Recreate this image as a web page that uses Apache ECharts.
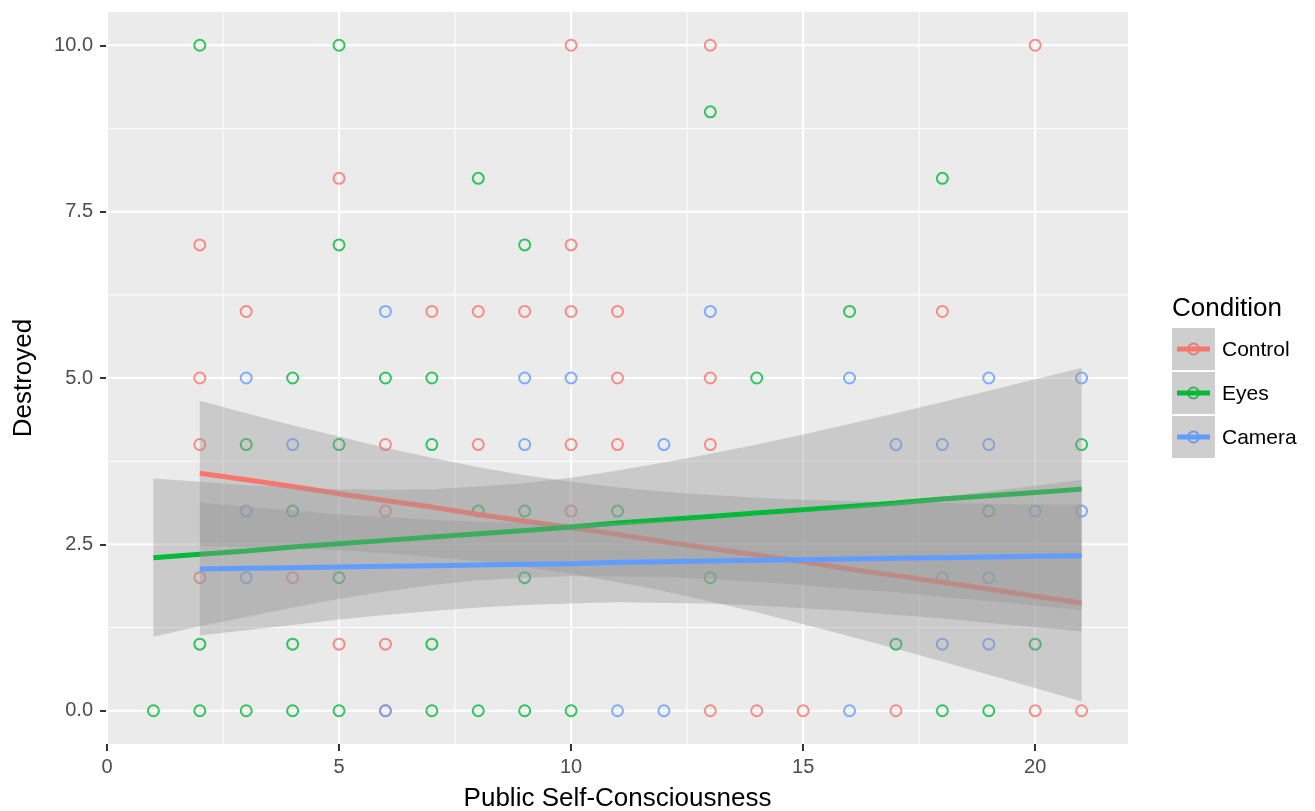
<!DOCTYPE html>
<html>
<head>
<meta charset="utf-8">
<script src="https://cdn.jsdelivr.net/npm/echarts@6/dist/echarts.min.js"></script>
<style>
  html, body { margin: 0; padding: 0; background: #ffffff; }
  #chart { width: 1315px; height: 811px; }
</style>
</head>
<body>
<div id="chart"></div>
<script>
// Groups and their colours
const groups = ['Control', 'Eyes', 'Camera'];
const groupColors = ['#F8766D', '#00BA38', '#619CFF'];

// Axis tick positions
const xTicks = [0, 5, 10, 15, 20];
const xMinor = [2.5, 7.5, 12.5, 17.5];
const yTicks = [0, 2.5, 5, 7.5, 10];
const yMinor = [1.25, 3.75, 6.25, 8.75];

// Observations: Public Self-Consciousness (x) vs Destroyed (y)
const controlX = [10, 13, 20, 5, 2, 10, 3, 7, 8, 9, 10, 11, 18, 2, 11, 13, 2, 6, 8, 10, 11, 13, 6, 10, 2, 4, 5, 6, 6, 13, 14, 15, 17, 20, 21];
const controlY = [10, 10, 10, 8, 7, 7, 6, 6, 6, 6, 6, 6, 6, 5, 5, 5, 4, 4, 4, 4, 4, 4, 3, 3, 2, 2, 1, 1, 0, 0, 0, 0, 0, 0, 0];

const eyesX = [2, 5, 13, 8, 18, 5, 9, 16, 4, 6, 7, 14, 3, 5, 7, 21, 4, 8, 9, 11, 19, 5, 9, 13, 2, 4, 7, 17, 20, 1, 2, 3, 4, 5, 7, 8, 9, 10, 18, 19];
const eyesY = [10, 10, 9, 8, 8, 7, 7, 6, 5, 5, 5, 5, 4, 4, 4, 4, 3, 3, 3, 3, 3, 2, 2, 2, 1, 1, 1, 1, 1, 0, 0, 0, 0, 0, 0, 0, 0, 0, 0, 0];

const cameraX = [6, 13, 3, 9, 10, 16, 19, 21, 4, 9, 12, 17, 18, 19, 3, 20, 21, 3, 18, 19, 18, 19, 6, 11, 12, 16];
const cameraY = [6, 6, 5, 5, 5, 5, 5, 5, 4, 4, 4, 4, 4, 4, 3, 3, 3, 2, 2, 2, 1, 1, 0, 0, 0, 0];

// Linear fits with 95% confidence bands, per group
const controlFitX  = [2, 3, 4, 5, 6, 7, 8, 9, 10, 11, 12, 13, 14, 15, 16, 17, 18, 19, 20, 21];
const controlFit   = [3.57, 3.47, 3.37, 3.26, 3.16, 3.06, 2.95, 2.85, 2.75, 2.65, 2.54, 2.44, 2.34, 2.24, 2.13, 2.03, 1.93, 1.83, 1.72, 1.62];
const controlLower = [2.48, 2.46, 2.44, 2.41, 2.37, 2.31, 2.25, 2.16, 2.06, 1.93, 1.80, 1.64, 1.48, 1.30, 1.12, 0.93, 0.74, 0.54, 0.34, 0.14];
const controlUpper = [4.66, 4.47, 4.29, 4.12, 3.95, 3.80, 3.66, 3.54, 3.44, 3.36, 3.29, 3.24, 3.20, 3.17, 3.15, 3.13, 3.12, 3.11, 3.10, 3.10];

const eyesFitX  = [1, 2, 3, 4, 5, 6, 7, 8, 9, 10, 11, 12, 13, 14, 15, 16, 17, 18, 19, 20, 21];
const eyesFit   = [2.30, 2.35, 2.40, 2.46, 2.51, 2.56, 2.61, 2.66, 2.71, 2.76, 2.82, 2.87, 2.92, 2.97, 3.02, 3.07, 3.12, 3.18, 3.23, 3.28, 3.33];
const eyesLower = [1.11, 1.27, 1.41, 1.55, 1.68, 1.79, 1.89, 1.96, 2.00, 2.02, 2.02, 2.01, 1.98, 1.94, 1.89, 1.83, 1.78, 1.71, 1.65, 1.58, 1.51];
const eyesUpper = [3.49, 3.44, 3.39, 3.36, 3.33, 3.32, 3.33, 3.37, 3.42, 3.50, 3.61, 3.73, 3.86, 4.00, 4.15, 4.31, 4.47, 4.64, 4.81, 4.98, 5.15];

const cameraFitX  = [2, 3, 4, 5, 6, 7, 8, 9, 10, 11, 12, 13, 14, 15, 16, 17, 18, 19, 20, 21];
const cameraFit   = [2.13, 2.14, 2.15, 2.16, 2.17, 2.18, 2.19, 2.20, 2.21, 2.23, 2.24, 2.25, 2.26, 2.27, 2.28, 2.29, 2.30, 2.31, 2.32, 2.33];
const cameraLower = [1.13, 1.21, 1.29, 1.37, 1.44, 1.50, 1.55, 1.59, 1.61, 1.63, 1.62, 1.61, 1.58, 1.54, 1.50, 1.44, 1.39, 1.32, 1.26, 1.19];
const cameraUpper = [3.13, 3.07, 3.01, 2.95, 2.91, 2.87, 2.84, 2.82, 2.81, 2.82, 2.85, 2.88, 2.93, 2.99, 3.06, 3.13, 3.21, 3.30, 3.38, 3.47];

const pointsByGroup = [[controlX, controlY], [eyesX, eyesY], [cameraX, cameraY]];
const fitsByGroup = [
  [controlFitX, controlFit, controlLower, controlUpper],
  [eyesFitX, eyesFit, eyesLower, eyesUpper],
  [cameraFitX, cameraFit, cameraLower, cameraUpper]
];

const FONT = '"Liberation Sans", Arial, Helvetica, sans-serif';
const bandFill = 'rgba(153,153,153,0.4)';

const chart = echarts.init(document.getElementById('chart'), null, { renderer: 'canvas' });

// Panel grid lines, drawn through the axis scales
const gridLineSeries = {
  type: 'custom',
  silent: true,
  z: 1,
  data: [[0, 0]],
  renderItem(params, api) {
    const cs = params.coordSys;
    const children = [];
    const vline = (v, w) => {
      const p = api.coord([v, 0]);
      children.push({ type: 'line', shape: { x1: p[0], y1: cs.y, x2: p[0], y2: cs.y + cs.height },
        style: { stroke: '#ffffff', lineWidth: w } });
    };
    const hline = (v, w) => {
      const p = api.coord([0, v]);
      children.push({ type: 'line', shape: { x1: cs.x, y1: p[1], x2: cs.x + cs.width, y2: p[1] },
        style: { stroke: '#ffffff', lineWidth: w } });
    };
    xMinor.forEach(v => vline(v, 1));
    yMinor.forEach(v => hline(v, 1));
    xTicks.forEach(v => vline(v, 2));
    yTicks.forEach(v => hline(v, 2));
    return { type: 'group', children };
  }
};

const series = [gridLineSeries];

// Open-circle points
groups.forEach((g, gi) => {
  const [xs, ys] = pointsByGroup[gi];
  series.push({
    name: g,
    type: 'scatter',
    z: 2,
    symbol: 'circle',
    symbolSize: 11,
    itemStyle: { color: 'rgba(0,0,0,0)', borderColor: groupColors[gi], borderWidth: 2 },
    emphasis: { disabled: true },
    data: xs.map((x, i) => [x, ys[i]])
  });
});

// Confidence ribbon then fitted line, group by group (later groups layered on top)
groups.forEach((g, gi) => {
  const [fx, fit, lo, hi] = fitsByGroup[gi];
  series.push({
    type: 'custom',
    silent: true,
    z: 3 + gi * 2,
    data: fx.map((x, i) => [x, lo[i], hi[i]]),
    encode: { x: 0, y: [1, 2] },
    renderItem(params, api) {
      if (params.dataIndex !== 0) return null;
      const pts = [];
      for (let i = 0; i < fx.length; i++) pts.push(api.coord([fx[i], hi[i]]));
      for (let i = fx.length - 1; i >= 0; i--) pts.push(api.coord([fx[i], lo[i]]));
      return { type: 'polygon', shape: { points: pts }, style: { fill: bandFill } };
    }
  });
  series.push({
    type: 'line',
    z: 4 + gi * 2,
    silent: true,
    showSymbol: false,
    symbol: 'none',
    lineStyle: { color: groupColors[gi], width: 5 },
    data: fx.map((x, i) => [x, fit[i]])
  });
});

// Legend built from the group list
const legendLeft = 1172, keyW = 43, keyH = 42, keyTop = 328, keyStep = 44;
const legendGraphics = [{
  type: 'text', left: legendLeft, top: 296,
  style: { text: 'Condition', font: '26px ' + FONT, fill: '#000000' }
}];
groups.forEach((g, gi) => {
  const top = keyTop + gi * keyStep;
  const cy = top + keyH / 2;
  legendGraphics.push({
    type: 'rect', shape: { x: legendLeft, y: top, width: keyW, height: keyH },
    style: { fill: '#F2F2F2' }
  });
  legendGraphics.push({
    type: 'circle', shape: { cx: legendLeft + keyW / 2, cy: cy, r: 5.5 },
    style: { fill: 'none', stroke: groupColors[gi], lineWidth: 2 }
  });
  legendGraphics.push({
    type: 'rect', shape: { x: legendLeft, y: top, width: keyW, height: keyH },
    style: { fill: bandFill }
  });
  legendGraphics.push({
    type: 'line', shape: { x1: legendLeft + 5, y1: cy, x2: legendLeft + keyW - 5, y2: cy },
    style: { stroke: groupColors[gi], lineWidth: 5 }
  });
  legendGraphics.push({
    type: 'text', left: legendLeft + keyW + 7, top: cy - 9,
    style: { text: g, font: '21px ' + FONT, fill: '#000000' }
  });
});

chart.setOption({
  animation: false,
  backgroundColor: '#ffffff',
  grid: {
    left: 107, right: 187, top: 12, bottom: 67,
    containLabel: false,
    outerBoundsMode: 'none',
    show: true, backgroundColor: '#EBEBEB', borderWidth: 0
  },
  xAxis: {
    type: 'value',
    min: 0, max: 22,
    name: 'Public Self-Consciousness',
    nameLocation: 'middle',
    nameGap: 42,
    nameTextStyle: { fontFamily: FONT, fontSize: 26, color: '#000000' },
    axisLine: { show: true, onZero: false, lineStyle: { color: 'rgba(0,0,0,0)', width: 0 } },
    axisTick: { show: true, length: 7, customValues: xTicks, lineStyle: { color: '#333333', width: 2 } },
    axisLabel: { customValues: xTicks, fontFamily: FONT, fontSize: 20, color: '#4D4D4D', margin: 13 },
    splitLine: { show: false }
  },
  yAxis: {
    type: 'value',
    min: -0.5, max: 10.5,
    name: 'Destroyed',
    nameLocation: 'middle',
    nameGap: 70,
    nameTextStyle: { fontFamily: FONT, fontSize: 26, color: '#000000' },
    axisLine: { show: true, onZero: false, lineStyle: { color: 'rgba(0,0,0,0)', width: 0 } },
    axisTick: { show: true, length: 7, customValues: yTicks, lineStyle: { color: '#333333', width: 2 } },
    axisLabel: {
      customValues: yTicks, fontFamily: FONT, fontSize: 20, color: '#4D4D4D', margin: 14,
      formatter: v => Number(v).toFixed(1)
    },
    splitLine: { show: false }
  },
  graphic: legendGraphics,
  series
});
</script>
</body>
</html>
